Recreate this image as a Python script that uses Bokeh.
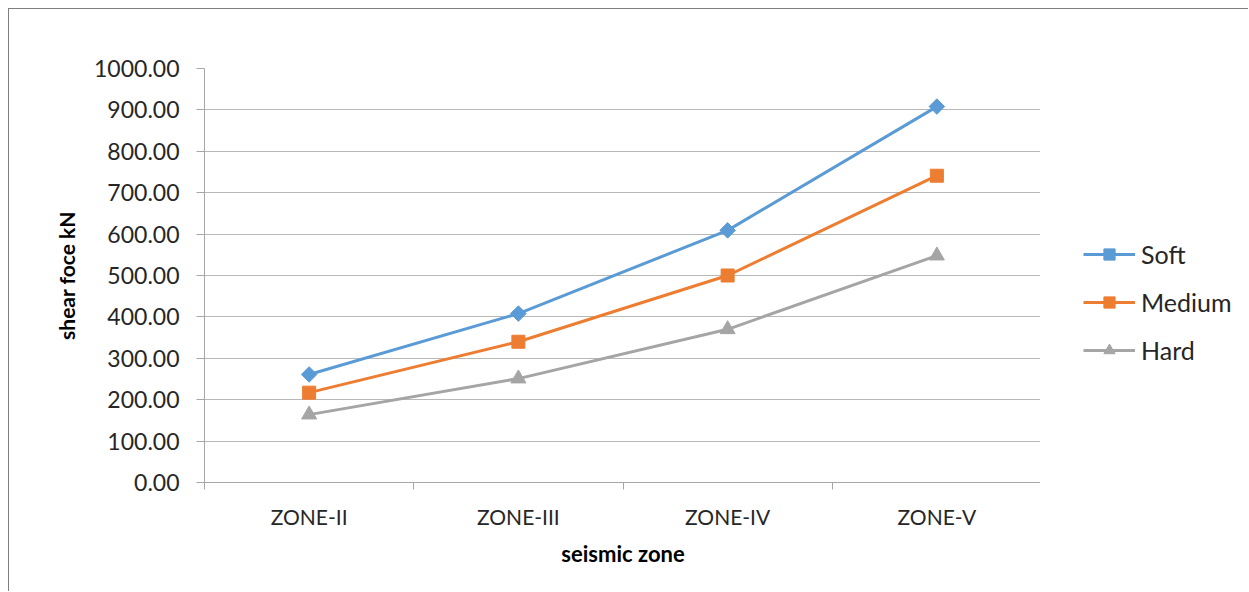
import math
from bokeh.plotting import figure
from bokeh.layouts import row
from bokeh.models import FixedTicker, NumeralTickFormatter, Legend, LegendItem, Range1d
from bokeh.embed import file_html
from bokeh.resources import INLINE

zones = ["ZONE-II", "ZONE-III", "ZONE-IV", "ZONE-V"]
series_names = ["Soft", "Medium", "Hard"]
soft = [261, 408, 609, 908]
medium = [217, 340, 500, 741]
hard = [164, 251, 370, 548]

xs = [i + 0.5 for i in range(len(zones))]

FONT = "Lato"
H = 583
BT, BB = 59, 110
p = figure(width=1032, height=H, output_backend="svg", toolbar_location=None,
           x_range=Range1d(0, len(zones)), y_range=Range1d(0, 1000),
           min_border_left=195, min_border_right=0, min_border_top=BT, min_border_bottom=BB,
           styles={"border-left": "1px solid #7f7f7f", "border-top": "1px solid #7f7f7f"})
p.outline_line_color = None
p.background_fill_color = "white"

# axes
p.xaxis.ticker = FixedTicker(ticks=xs, minor_ticks=list(range(len(zones) + 1)))
p.xaxis.major_label_overrides = {x: z for x, z in zip(xs, zones)}
p.xaxis.major_tick_out = 0
p.xaxis.major_tick_in = 0
p.xaxis.minor_tick_out = 7
p.xaxis.minor_tick_in = 0
p.xaxis.minor_tick_line_color = "#a6a6a6"
p.xaxis.axis_line_color = "#a6a6a6"
p.xaxis.major_label_standoff = 14
p.xaxis.major_label_text_font = FONT
p.xaxis.major_label_text_font_size = "21px"
p.xaxis.major_label_text_color = "#262626"
p.xaxis.axis_label = "seismic zone"
p.xaxis.axis_label_text_font = FONT
p.xaxis.axis_label_text_font_style = "bold"
p.xaxis.axis_label_text_font_size = "22px"
p.xaxis.axis_label_text_color = "#000000"
p.xaxis.axis_label_standoff = 8
p.xgrid.grid_line_color = None

p.yaxis.ticker = FixedTicker(ticks=list(range(0, 1001, 100)))
p.yaxis.formatter = NumeralTickFormatter(format="0.00")
p.yaxis.major_tick_out = 8
p.yaxis.major_tick_in = 0
p.yaxis.major_tick_line_color = "#a6a6a6"
p.yaxis.minor_tick_line_color = None
p.yaxis.axis_line_color = "#a6a6a6"
p.yaxis.major_label_standoff = 17
p.yaxis.major_label_text_font = FONT
p.yaxis.major_label_text_font_size = "23px"
p.yaxis.major_label_text_color = "#262626"
p.yaxis.axis_label = "shear foce kN"
p.yaxis.axis_label_text_font = FONT
p.yaxis.axis_label_text_font_style = "bold"
p.yaxis.axis_label_text_font_size = "21px"
p.yaxis.axis_label_text_color = "#000000"
p.yaxis.axis_label_standoff = 12
p.ygrid.grid_line_color = "#b8b8b8"
p.ygrid.grid_line_width = 1.2

colors = ["#5B9BD5", "#ED7D31", "#A5A5A5"]
markers = [("square", 11, math.pi / 4), ("square", 13, 0), ("triangle", 15, 0)]

# side figure holding the legend (its ranges keep the series out of view)
lf = figure(width=208, height=H, output_backend="svg", toolbar_location=None,
            x_axis_type=None, y_axis_type=None,
            x_range=Range1d(100, 101), y_range=Range1d(5000, 5001),
            min_border_left=43, min_border_top=BT, min_border_right=0, min_border_bottom=BB,
            styles={"border-top": "1px solid #7f7f7f"})
lf.outline_line_color = None
lf.grid.grid_line_color = None

items = []
for name, vals, c, (mk, sz, ang) in zip(series_names, [soft, medium, hard], colors, markers):
    p.line(xs, vals, line_color=c, line_width=3)
    p.scatter(xs, vals, marker=mk, size=sz, angle=ang, color=c)
    ll = lf.line(xs, vals, line_color=c, line_width=3)
    lm = lf.scatter(xs, vals, marker=mk, size=sz, angle=ang, color=c)
    items.append(LegendItem(label=name, renderers=[ll, lm]))

legend = Legend(items=items, location=(0, 117), orientation="vertical",
                glyph_width=52, glyph_height=28, label_height=20, spacing=18,
                padding=0, margin=0, label_standoff=6,
                label_text_font=FONT, label_text_font_size="25px", label_text_color="#262626",
                background_fill_alpha=0, border_line_color=None)
lf.add_layout(legend, "center")

layout = row(p, lf, styles={"margin-left": "8px", "margin-top": "8px"})
open("out.html", "w").write(file_html(layout, INLINE))
